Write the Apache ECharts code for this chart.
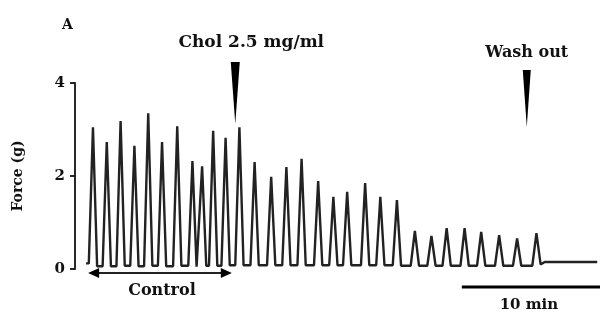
<!DOCTYPE html>
<html>
<head>
<meta charset="utf-8">
<script src="https://cdn.jsdelivr.net/npm/echarts@6/dist/echarts.min.js"></script>
<style>
  html, body { margin: 0; padding: 0; background: #fff; }
  #chart { width: 601px; height: 316px; }
</style>
</head>
<body>
<div id="chart"></div>
<script>
// peak times (min) and peak force (g)
const peakTime = [1.3, 2.3, 3.3, 4.3, 5.3, 6.3, 7.4, 8.5, 9.2, 10.0, 10.9, 11.9, 13.0, 14.2, 15.3,
  16.4, 17.6, 18.7, 19.7, 21.0, 22.1, 23.3, 24.6, 25.8, 26.9, 28.2, 29.4, 30.7, 32.0, 33.4];
const peakForce = [3.05, 2.73, 3.18, 2.65, 3.35, 2.73, 3.07, 2.32, 2.21, 2.97, 2.82, 3.05, 2.30, 1.98, 2.19,
  2.37, 1.89, 1.55, 1.66, 1.85, 1.55, 1.48, 0.82, 0.71, 0.88, 0.88, 0.80, 0.73, 0.66, 0.77];
// resting force between contractions (one before each peak, one after the last)
const restForce = [0.12, 0.06, 0.06, 0.07, 0.06, 0.07, 0.06, 0.07, 0.05, 0.07, 0.07, 0.08, 0.08, 0.08, 0.08,
  0.08, 0.08, 0.08, 0.08, 0.08, 0.08, 0.08, 0.07, 0.07, 0.07, 0.07, 0.07, 0.07, 0.07, 0.07, 0.1];
const traceStart = 0.8;
const flatSegment = [[34.0, 0.15], [37.8, 0.15]];
const yTicks = [0, 2, 4];

const cholTime = 11.6;
const washTime = 32.7;
const controlRange = [0.95, 11.35];
const scaleBar = [28, 38];

const chart = echarts.init(document.getElementById("chart"));

// build trace from the peak lists
const trace = [[traceStart, restForce[0]]];
peakTime.forEach((t, i) => {
  trace.push([t - 0.3, restForce[i]]);
  trace.push([t, peakForce[i]]);
  trace.push([t + 0.3, restForce[i + 1]]);
});
flatSegment.forEach((p) => trace.push(p));

const font = "'DejaVu Serif', 'Liberation Serif', serif";

chart.setOption({
  animation: false,
  grid: { left: 75, right: 1, top: 83, bottom: 47 },
  xAxis: { type: "value", min: 0, max: 38, show: false },
  yAxis: {
    type: "value",
    min: 0,
    max: 4,
    interval: 2,
    name: "Force (g)",
    nameLocation: "middle",
    nameGap: 50,
    nameTextStyle: { fontFamily: font, fontWeight: "bold", fontSize: 14, color: "#111" },
    axisLine: { show: true, lineStyle: { color: "#111", width: 1.8 } },
    axisTick: { show: true, length: 5, lineStyle: { color: "#111", width: 1.8 } },
    axisLabel: {
      margin: 10,
      fontFamily: font, fontWeight: "bold", fontSize: 15, color: "#111",
      formatter: (v) => (yTicks.includes(v) ? String(v) : ""),
    },
    splitLine: { show: false },
  },
  series: [
    {
      type: "line",
      data: trace,
      showSymbol: false,
      lineStyle: { color: "#222", width: 2.4 },
      clip: false,
    },
  ],
});

// annotations placed from data coordinates
function px(t, v) {
  return chart.convertToPixel({ gridIndex: 0 }, [t, v]);
}
function downArrow(x, y1, y2, w) {
  return {
    type: "polygon",
    shape: { points: [[x - w / 2, y1], [x + w / 2, y1], [x, y2]] },
    style: { fill: "#000" },
  };
}
const chol = px(cholTime, 0);
const wash = px(washTime, 0);
const c0 = px(controlRange[0], 0);
const c1 = px(controlRange[1], 0);
const s0 = px(scaleBar[0], 0);
const s1 = px(scaleBar[1], 0);
const textStyle = (s) => Object.assign({ fontFamily: font, fontWeight: "bold", fill: "#111" }, s);

chart.setOption({
  graphic: [
    { type: "text", left: 62, top: 18, style: textStyle({ text: "A", fontSize: 14 }) },
    { type: "text", x: chol[0] + 16, y: 43, style: textStyle({ text: "Chol 2.5 mg/ml", fontSize: 17, align: "center", verticalAlign: "middle" }) },
    downArrow(chol[0], 62, 124, 9),
    { type: "text", x: wash[0], y: 53, style: textStyle({ text: "Wash out", fontSize: 16, align: "center", verticalAlign: "middle" }) },
    downArrow(wash[0], 70, 127, 8),
    {
      type: "line",
      shape: { x1: c0[0] + 8, y1: 273, x2: c1[0] - 8, y2: 273 },
      style: { stroke: "#222", lineWidth: 1.8 },
    },
    { type: "polygon", shape: { points: [[c0[0], 273], [c0[0] + 11, 268], [c0[0] + 11, 278]] }, style: { fill: "#000" } },
    { type: "polygon", shape: { points: [[c1[0], 273], [c1[0] - 11, 268], [c1[0] - 11, 278]] }, style: { fill: "#000" } },
    { type: "text", x: (c0[0] + c1[0]) / 2 + 2, y: 291, style: textStyle({ text: "Control", fontSize: 16, align: "center", verticalAlign: "middle" }) },
    {
      type: "line",
      shape: { x1: s0[0], y1: 287, x2: s1[0], y2: 287 },
      style: { stroke: "#000", lineWidth: 3 },
    },
    { type: "text", x: (s0[0] + s1[0]) / 2 - 2, y: 305, style: textStyle({ text: "10 min", fontSize: 15, align: "center", verticalAlign: "middle" }) },
  ],
});
</script>
</body>
</html>
